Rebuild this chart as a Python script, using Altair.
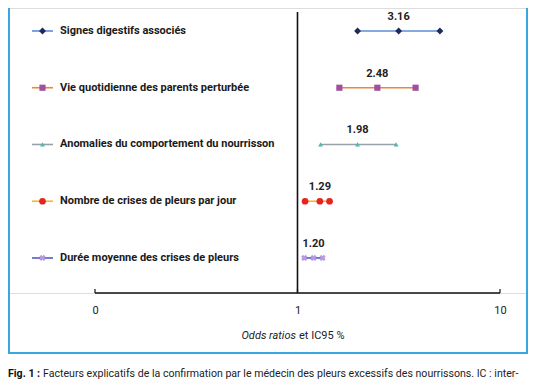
import altair as alt
import pandas as pd

labels = ["Signes digestifs associés", "Vie quotidienne des parents perturbée",
          "Anomalies du comportement du nourrisson", "Nombre de crises de pleurs par jour",
          "Durée moyenne des crises de pleurs"]
or_vals = [3.16, 2.48, 1.98, 1.29, 1.20]
ci_low = [1.98, 1.61, 1.30, 1.09, 1.08]
ci_high = [5.05, 3.83, 3.07, 1.44, 1.33]
line_colors = ["#5b8ed6", "#f0843c", "#9aa0a8", "#f5b52e", "#4b5fc4"]
marker_colors = ["#1e2a5e", "#a0509e", "#4bbab0", "#e52420", "#b79ae0"]
shapes = ["diamond", "square", "triangle-up", "circle", "cross"]
sizes = [48, 38, 24, 45, 40]
angles = [0, 0, 0, 0, 45]
tick_values = [0.1, 1, 10]

FONT = "Roboto"
BLUE = "#3aa6e0"

rows = pd.DataFrame({
    "row": list(range(len(labels))), "label": labels, "est": or_vals,
    "lo": ci_low, "hi": ci_high, "lc": line_colors, "mc": marker_colors,
    "shape": shapes, "size": sizes, "angle": angles,
})
pts = []
for i in range(len(labels)):
    for v in (ci_low[i], or_vals[i], ci_high[i]):
        pts.append({"row": i, "v": v, "mc": marker_colors[i], "shape": shapes[i],
                    "size": sizes[i], "angle": angles[i]})
pts = pd.DataFrame(pts)
ticks = pd.DataFrame({"t": tick_values})

xs = alt.Scale(type="log", domain=[0.03719, 13.75], nice=False)
AX = alt.Axis(values=tick_values, domain=False, ticks=False, grid=False, title=None,
              labelExpr="datum.value < 0.5 ? '0' : datum.label",
              labelFont=FONT, labelFontSize=11, labelColor="#222", labelPadding=11)
ys = alt.Scale(domain=[-0.405, 4.617], reverse=True)
Y = alt.Y("row:Q", scale=ys, axis=None)

def X(field):
    return alt.X(field, scale=xs, axis=AX, title=None)

base = alt.Chart(rows)

ci = base.mark_rule(strokeWidth=1.6).encode(
    x=X("lo:Q"), x2="hi:Q", y=Y, color=alt.Color("lc:N", scale=None))

points = alt.Chart(pts).mark_point(filled=True, opacity=1).encode(
    x=X("v:Q"), y=Y,
    color=alt.Color("mc:N", scale=None),
    shape=alt.Shape("shape:N", scale=None),
    size=alt.Size("size:Q", scale=None),
    angle=alt.Angle("angle:Q", scale=None))

vals = base.mark_text(font=FONT, fontSize=11, fontWeight="bold", color="#222", dy=-14).encode(
    x=X("est:Q"), y=Y, text=alt.Text("est:Q", format=".2f"))

names = base.mark_text(font=FONT, fontSize=11, fontWeight="bold", color="#1a1a1a",
                       align="left", baseline="middle").encode(
    x=alt.value(52), y=Y, text="label:N")

icon_line = base.mark_rule(strokeWidth=1.6).encode(
    x=alt.value(24), x2=alt.value(45), y=Y, color=alt.Color("lc:N", scale=None))

icon_pt = base.mark_point(filled=True, opacity=1).encode(
    x=alt.value(34.5), y=Y,
    color=alt.Color("mc:N", scale=None),
    shape=alt.Shape("shape:N", scale=None),
    size=alt.Size("size:Q", scale=None),
    angle=alt.Angle("angle:Q", scale=None))

one = pd.DataFrame({"t": [1]})
ref = alt.Chart(one).mark_rule(color="#111", strokeWidth=1.6).encode(
    x=X("t:Q"), y=alt.value(4), y2=alt.value(285))

dom = alt.Chart(pd.DataFrame({"a": [tick_values[0]], "b": [tick_values[-1]]})).mark_rule(
    color="#111", strokeWidth=1.4).encode(x=X("a:Q"), x2="b:Q", y=alt.value(285))

tk = alt.Chart(ticks).mark_rule(color="#111", strokeWidth=1.2).encode(
    x=X("t:Q"), y=alt.value(281), y2=alt.value(285))

t1 = alt.Chart(one).mark_text(font=FONT, fontSize=11, fontStyle="italic", color="#222",
                              align="right", dx=-1.5).encode(
    x=X("t:Q"), y=alt.value(328), text=alt.value("Odds ratios"))
t2 = alt.Chart(one).mark_text(font=FONT, fontSize=11, color="#222",
                              align="left", dx=1.5).encode(
    x=X("t:Q"), y=alt.value(328), text=alt.value("et IC95 %"))

b_left = alt.Chart(one).mark_rule(color=BLUE, strokeWidth=2).encode(
    x=alt.value(1), y=alt.value(-5), y2=alt.value(345))
b_right = alt.Chart(one).mark_rule(color=BLUE, strokeWidth=2).encode(
    x=alt.value(519), y=alt.value(-5), y2=alt.value(345))
b_bottom = alt.Chart(one).mark_rule(color=BLUE, strokeWidth=2).encode(
    x=alt.value(0), x2=alt.value(520), y=alt.value(345))

cap1 = alt.Chart(one).mark_text(font=FONT, fontSize=10.6, fontWeight="bold", color="#111",
                                align="left").encode(
    x=alt.value(0), y=alt.value(366), text=alt.value("Fig. 1 :"))
cap2 = alt.Chart(one).mark_text(font=FONT, fontSize=10.6, color="#222", align="left").encode(
    x=alt.value(35), y=alt.value(366),
    text=alt.value("Facteurs explicatifs de la confirmation par le médecin des pleurs excessifs des nourrissons. IC : inter-"))

chart = alt.layer(
    b_left, b_right, b_bottom, ref, dom, tk, ci, points, vals, names, icon_line, icon_pt,
    t1, t2, cap1, cap2
).properties(
    width=520, height=285,
    autosize=alt.AutoSizeParams(type="none"),
    padding={"left": 0, "top": 0, "right": 0, "bottom": 93},
).configure_view(stroke=None).configure(background="white")

chart.save("out.html", embed_options={"renderer": "svg", "actions": False})
